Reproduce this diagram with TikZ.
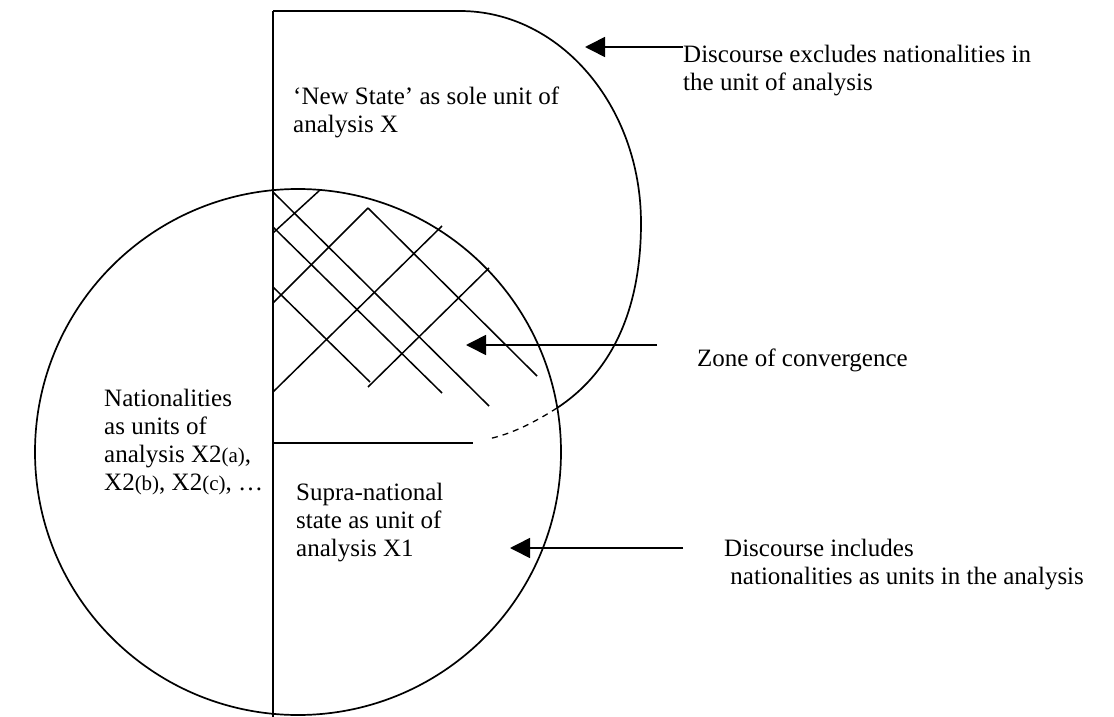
\documentclass[tikz,border=0pt]{standalone}
\usepackage{fontspec}
\setmainfont{Liberation Serif}
\usetikzlibrary{arrows.meta}
\begin{document}
\begin{tikzpicture}[x=1pt,y=-1pt,
  outline/.style={line width=1.7pt},
  hatch/.style={line width=1.5pt},
  pointer/.style={line width=1.6pt,-{Triangle[length=20pt,width=20pt]}},
  label/.style={inner sep=0pt,anchor=base west,align=left,
    font=\fontsize{25}{28}\selectfont}]
\useasboundingbox (0,0) rectangle (1114,717);
\newcommand{\sm}[1]{{\fontsize{21}{28}\selectfont #1}}

% dividing line shared by both regions
\draw[outline] (273,11) -- (273,717);

% region of the new state (top)
\draw[outline] (273,11) -- (460,11)
  .. controls (560,11) and (641,106) .. (641,223)
  .. controls (641,300) and (618,368) .. (557,408);
\draw[line width=1.3pt,dash pattern=on 6pt off 5pt]
  (557,408) .. controls (535,422) and (512,434) .. (488,439);
\draw[line width=1.3pt] (273,443) -- (473,443);

% region of the supra-national state (circle)
\draw[outline] (298,452) circle[radius=263];

% cross hatching of the zone of convergence
\draw[hatch] (273,192) -- (489,406);
\draw[hatch] (273,227) -- (442,393);
\draw[hatch] (273,287) -- (370,382);
\draw[hatch] (368,208) -- (537,376);
\draw[hatch] (273,392) -- (442,226);
\draw[hatch] (368,387) -- (489,268);
\draw[hatch] (273,303) -- (368,208);
\draw[hatch] (273,233) -- (320,190);

% labels inside the regions (positions give the last baseline)
\node[label] (newstate) at (293,132) {‘New State’ as sole unit of\\analysis X};
\node[label] (nations) at (104,490) {Nationalities\\as units of\\analysis X2\sm{(a)},\\X2\sm{(b)}, X2\sm{(c)}, …};
\node[label] (supra) at (296,556) {Supra-national\\state as unit of\\analysis X1};

% annotations with their pointers
\node[label] (excl) at (683,90) {Discourse excludes nationalities in\\the unit of analysis};
\coordinate (exclfrom) at (683,47);
\coordinate (excltip) at (585,47);
\draw[pointer] (exclfrom) -- (excltip);

\node[label] (zone) at (697,366) {Zone of convergence};
\coordinate (zonefrom) at (657,345);
\coordinate (zonetip) at (466,345);
\draw[pointer] (zonefrom) -- (zonetip);

\node[label] (incl) at (724,584) {Discourse includes\\\ nationalities as units in the analysis};
\coordinate (inclfrom) at (683,548);
\coordinate (incltip) at (510,548);
\draw[pointer] (inclfrom) -- (incltip);
\end{tikzpicture}
\end{document}
